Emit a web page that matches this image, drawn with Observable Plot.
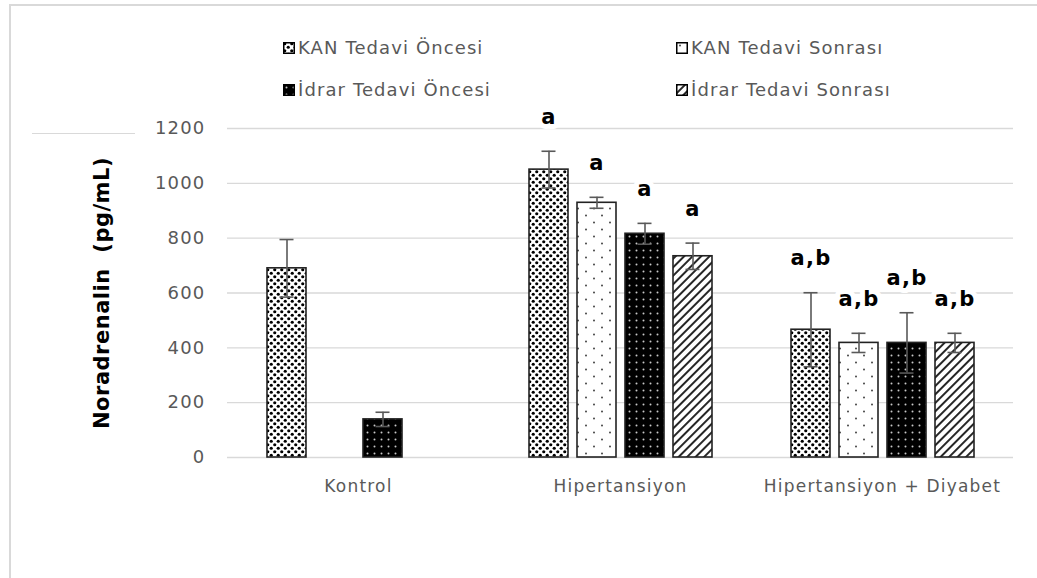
<!DOCTYPE html>
<html>
<head>
<meta charset="utf-8">
<script src="https://cdn.jsdelivr.net/npm/d3@7"></script>
<script src="https://cdn.jsdelivr.net/npm/@observablehq/plot@0.6"></script>
<style>
  html, body { margin: 0; padding: 0; background: #fff; }
  #wrap { position: relative; width: 1037px; height: 578px; overflow: hidden; background: #fff; font-family: "DejaVu Sans", sans-serif; }
  #frameTop { position: absolute; left: 10px; top: 4px; width: 1027px; height: 2px; background: #d9d9d9; }
  #frameLeft { position: absolute; left: 9px; top: 4px; width: 2px; height: 574px; background: #d9d9d9; }
  #stray { position: absolute; left: 32px; top: 133px; width: 103px; height: 1px; background: #d9d9d9; }
  #legend { position: absolute; left: 0; top: 0; width: 1037px; height: 100px; }
  .item { position: absolute; display: flex; align-items: center; color: #595959; font-size: 18px; letter-spacing: 1.1px; white-space: nowrap; }
  .item svg { margin-right: 3px; }
  #chart { position: absolute; left: 0; top: 100px; }
  #chart svg text { letter-spacing: 1.2px; }
</style>
</head>
<body>
<svg width="0" height="0" style="position:absolute">
  <defs>
    <pattern id="pKanOnce" width="7" height="7" patternUnits="userSpaceOnUse">
      <rect width="7" height="7" fill="#fff"/>
      <circle cx="1.75" cy="1.75" r="1.6" fill="#000"/>
      <circle cx="5.25" cy="5.25" r="1.6" fill="#000"/>
    </pattern>
    <pattern id="pKanSonra" width="16" height="14" patternUnits="userSpaceOnUse">
      <rect width="16" height="14" fill="#fff"/>
      <circle cx="4" cy="3.5" r="1" fill="#444"/>
      <circle cx="12" cy="10.5" r="1" fill="#444"/>
    </pattern>
    <pattern id="pIdrarOnce" width="7" height="7" patternUnits="userSpaceOnUse">
      <rect width="7" height="7" fill="#000"/>
      <circle cx="3.5" cy="3.5" r="1" fill="#c8c8c8"/>
    </pattern>
    <pattern id="pIdrarSonra" width="6" height="6" patternUnits="userSpaceOnUse" patternTransform="rotate(45)">
      <rect width="6" height="6" fill="#fff"/>
      <line x1="1" y1="0" x2="1" y2="6" stroke="#000" stroke-width="1.7"/>
    </pattern>
  </defs>
</svg>
<div id="wrap">
  <div id="frameTop"></div>
  <div id="frameLeft"></div>
  <div id="stray"></div>
  <div id="legend"></div>
  <div id="chart"></div>
</div>
<script>
// ---- data ----
const groups = ["Kontrol", "Hipertansiyon", "Hipertansiyon + Diyabet"];
const series = ["KAN Tedavi Öncesi", "KAN Tedavi Sonrası", "İdrar Tedavi Öncesi", "İdrar Tedavi Sonrası"];
const kontrolValues = [690, null, 139, null];
const kontrolErrors = [105, null, 26, null];
const kontrolLabels = ["", "", "", ""];
const hipertansiyonValues = [1050, 929, 816, 734];
const hipertansiyonErrors = [67, 20, 38, 48];
const hipertansiyonLabels = ["a", "a", "a", "a"];
const diyabetValues = [466, 418, 418, 418];
const diyabetErrors = [135, 35, 110, 35];
const diyabetLabels = ["a,b", "a,b", "a,b", "a,b"];
const yTicks = [0, 200, 400, 600, 800, 1000, 1200];
const yLabel = "Noradrenalin  (pg/mL)";
const patternFills = ["url(#pKanOnce)", "url(#pKanSonra)", "url(#pIdrarOnce)", "url(#pIdrarSonra)"];

const table = [];
[[kontrolValues, kontrolErrors, kontrolLabels],
 [hipertansiyonValues, hipertansiyonErrors, hipertansiyonLabels],
 [diyabetValues, diyabetErrors, diyabetLabels]].forEach(([vals, errs, labs], gi) => {
  vals.forEach((v, si) => {
    if (v == null) return;
    table.push({group: groups[gi], series: series[si], value: v, err: errs[si], label: labs[si],
                lo: v - errs[si], hi: v + errs[si]});
  });
});

// ---- legend ----
const legendPos = [[283, 37], [676, 37], [283, 79], [676, 79]];
const legend = document.getElementById("legend");
series.forEach((s, i) => {
  const d = document.createElement("div");
  d.className = "item";
  d.style.left = legendPos[i][0] + "px";
  d.style.top = legendPos[i][1] + "px";
  d.innerHTML = `<svg width="12" height="12"><rect x="0.75" y="0.75" width="10.5" height="10.5" fill="${patternFills[i]}" stroke="#000" stroke-width="1.5"/></svg><span>${s}</span>`;
  legend.appendChild(d);
});

// ---- chart ----
const chart = Plot.plot({
  width: 1037,
  height: 478,
  marginTop: 28,
  marginBottom: 121,
  marginLeft: 227,
  marginRight: 24,
  style: {fontFamily: "DejaVu Sans, sans-serif", fontSize: "17px", color: "#595959", background: "transparent", overflow: "visible"},
  fx: {domain: groups, padding: 0, axis: "bottom", label: null, tickSize: 0, tickPadding: 22},
  x: {domain: series, paddingInner: 0.1875, paddingOuter: 0.8125, axis: null},
  y: {domain: [0, 1200], axis: null},
  color: {domain: series, range: patternFills},
  marks: [
    Plot.ruleY(yTicks, {stroke: "#d9d9d9", strokeWidth: 1.3}),
    Plot.axisY({ticks: yTicks, tickFormat: d => String(d), tickSize: 0, tickPadding: 22, fontSize: 18, label: yLabel, labelAnchor: "center", labelArrow: "none", labelOffset: 133, facetAnchor: "left", fill: "#595959"}),
    Plot.barY(table, {fx: "group", x: "series", y: "value", fill: "series", stroke: "#222", strokeWidth: 1.6}),
    Plot.ruleX(table, {fx: "group", x: "series", y1: "lo", y2: "hi", stroke: "#595959", strokeWidth: 1.6}),
    Plot.tickY(table, {fx: "group", x: "series", y: "hi", stroke: "#595959", strokeWidth: 1.6, insetLeft: 12.5, insetRight: 12.5}),
    Plot.tickY(table, {fx: "group", x: "series", y: "lo", stroke: "#595959", strokeWidth: 1.6, insetLeft: 12.5, insetRight: 12.5}),
    Plot.text(table.filter(d => d.label), {fx: "group", x: "series", y: "hi", text: "label", dy: -34,
      fontSize: 21, fontWeight: "bold", fill: "#000", stroke: "#fff", strokeWidth: 10, paintOrder: "stroke"})
  ]
});
document.getElementById("chart").appendChild(chart);

// style the y-axis title (bold, black, larger)
chart.querySelectorAll('[aria-label="y-axis label"] text, [aria-label="y-axis label"]').forEach(el => {
  el.setAttribute("font-weight", "bold");
  el.setAttribute("font-size", "21");
  el.setAttribute("fill", "#000");
  el.style.letterSpacing = "0.5px";
});
</script>
</body>
</html>
